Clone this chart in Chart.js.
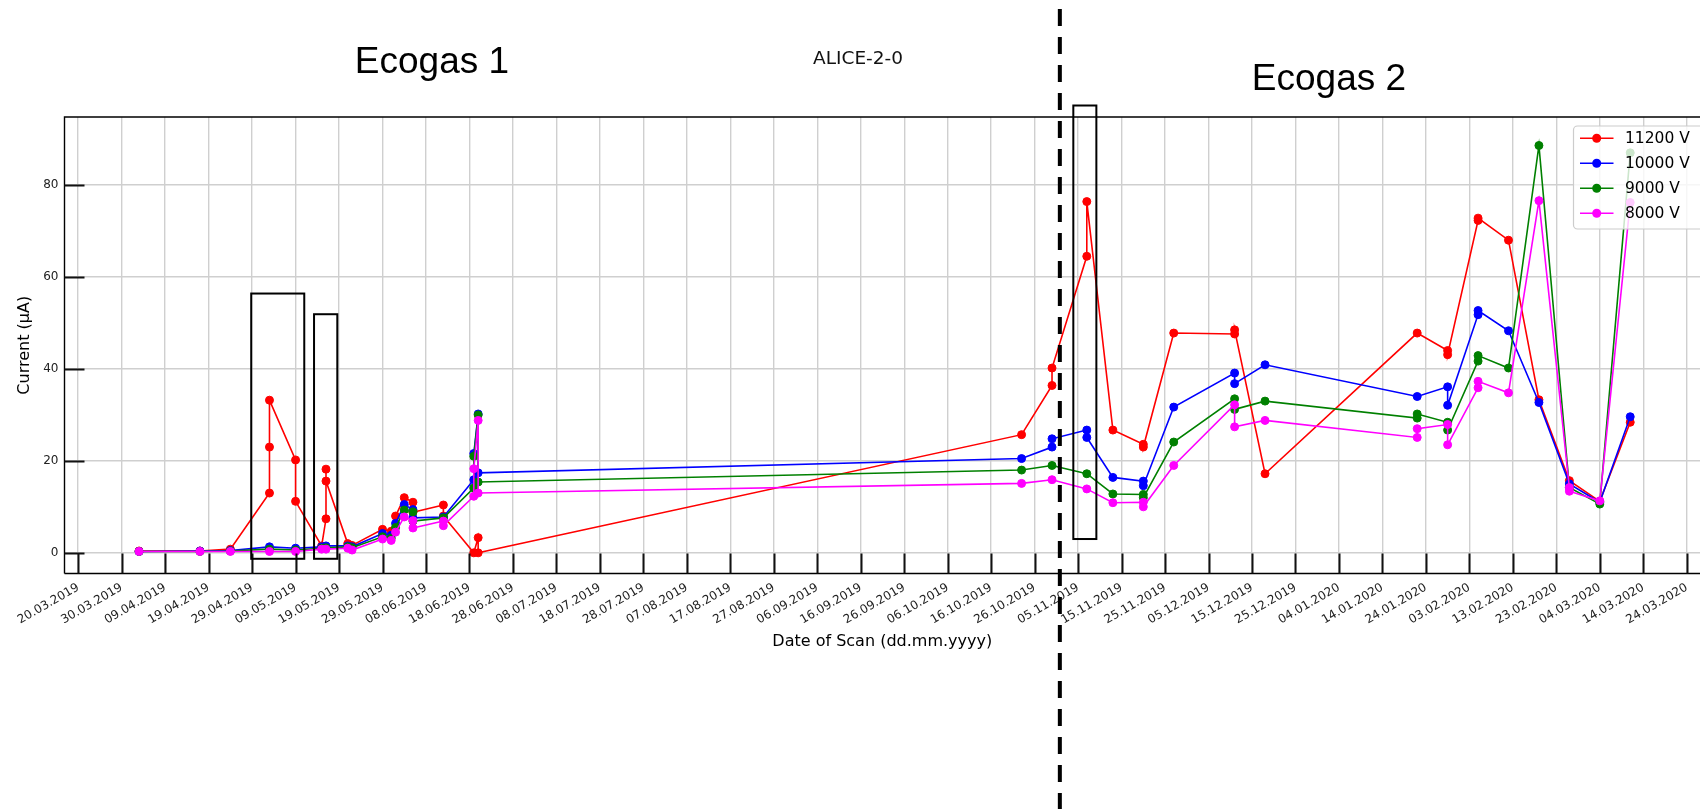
<!DOCTYPE html>
<html>
<head>
<meta charset="utf-8">
<script src="https://cdn.jsdelivr.net/npm/chart.js@4.4.1/dist/chart.umd.min.js"></script>
<style>
html,body{margin:0;padding:0;background:#fff;overflow:hidden}
canvas{display:block}
</style>
</head>
<body>
<canvas id="c" width="1700" height="809"></canvas>
<script>
// ---------------- DATA ----------------
const tickLabels = ['20.03.2019','30.03.2019','09.04.2019','19.04.2019','29.04.2019','09.05.2019','19.05.2019','29.05.2019','08.06.2019','18.06.2019','28.06.2019','08.07.2019','18.07.2019','28.07.2019','07.08.2019','17.08.2019','27.08.2019','06.09.2019','16.09.2019','26.09.2019','06.10.2019','16.10.2019','26.10.2019','05.11.2019','15.11.2019','25.11.2019','05.12.2019','15.12.2019','25.12.2019','04.01.2020','14.01.2020','24.01.2020','03.02.2020','13.02.2020','23.02.2020','04.03.2020','14.03.2020','24.03.2020'];
const yTickValues = [0, 20, 40, 60, 80];

const seriesNames = ['11200 V', '10000 V', '9000 V', '8000 V'];
const seriesColors = ['#ff0000', '#0000ff', '#008000', '#ff00ff'];

const dates11200 = ['03.04.2019','17.04.2019','24.04.2019','03.05.2019','03.05.2019','03.05.2019','09.05.2019','09.05.2019','15.05.2019','16.05.2019','16.05.2019','16.05.2019','21.05.2019','22.05.2019','29.05.2019','31.05.2019','01.06.2019','03.06.2019','05.06.2019','05.06.2019','12.06.2019','12.06.2019','19.06.2019','20.06.2019','20.06.2019','23.10.2019','30.10.2019','30.10.2019','07.11.2019','07.11.2019','13.11.2019','20.11.2019','20.11.2019','27.11.2019','11.12.2019','11.12.2019','18.12.2019','22.01.2020','29.01.2020','29.01.2020','05.02.2020','05.02.2020','12.02.2020','19.02.2020','26.02.2020','04.03.2020','11.03.2020'];
const values11200 = [0.4,0.4,0.8,13.0,23.0,33.2,20.2,11.2,1.5,7.4,18.2,15.6,2.0,1.6,5.1,4.7,8.0,12.0,11.0,8.8,10.4,8.0,0.0,3.3,0.0,25.7,36.4,40.2,64.5,76.4,26.7,23.6,23.0,47.8,47.6,48.5,17.2,47.8,44.0,43.1,72.3,72.8,68.0,33.3,15.7,11.2,28.4];

const dates10000 = ['03.04.2019','17.04.2019','24.04.2019','03.05.2019','09.05.2019','15.05.2019','16.05.2019','21.05.2019','22.05.2019','29.05.2019','31.05.2019','01.06.2019','03.06.2019','05.06.2019','05.06.2019','12.06.2019','19.06.2019','19.06.2019','20.06.2019','20.06.2019','23.10.2019','30.10.2019','30.10.2019','07.11.2019','07.11.2019','13.11.2019','20.11.2019','20.11.2019','27.11.2019','11.12.2019','11.12.2019','18.12.2019','22.01.2020','29.01.2020','29.01.2020','05.02.2020','05.02.2020','12.02.2020','19.02.2020','26.02.2020','04.03.2020','11.03.2020'];
const values10000 = [0.3,0.4,0.5,1.3,1.0,1.3,1.5,1.5,1.3,4.2,3.8,6.4,10.5,9.4,7.6,7.8,15.9,21.6,30.2,17.4,20.5,23.0,24.8,26.7,25.1,16.4,15.6,14.6,31.7,39.1,36.8,40.9,34.0,36.1,32.1,51.8,52.7,48.3,32.7,15.0,11.0,29.6];

const dates9000 = ['03.04.2019','17.04.2019','24.04.2019','03.05.2019','09.05.2019','15.05.2019','16.05.2019','21.05.2019','22.05.2019','29.05.2019','31.05.2019','01.06.2019','03.06.2019','05.06.2019','05.06.2019','12.06.2019','19.06.2019','19.06.2019','20.06.2019','20.06.2019','23.10.2019','30.10.2019','07.11.2019','13.11.2019','20.11.2019','20.11.2019','27.11.2019','11.12.2019','11.12.2019','18.12.2019','22.01.2020','22.01.2020','29.01.2020','29.01.2020','05.02.2020','05.02.2020','12.02.2020','19.02.2020','26.02.2020','04.03.2020','11.03.2020'];
const values9000 = [0.3,0.3,0.4,0.8,0.6,1.0,1.1,1.3,1.1,3.5,3.2,5.5,9.3,8.9,6.9,7.6,14.1,21.0,30.0,15.4,18.0,19.0,17.2,12.8,12.7,12.0,24.1,33.5,31.2,33.0,29.3,30.2,28.4,26.7,41.7,42.9,40.2,88.6,14.2,10.6,87.0];

const dates8000 = ['03.04.2019','17.04.2019','24.04.2019','03.05.2019','09.05.2019','15.05.2019','16.05.2019','21.05.2019','22.05.2019','29.05.2019','31.05.2019','01.06.2019','03.06.2019','05.06.2019','05.06.2019','12.06.2019','12.06.2019','19.06.2019','19.06.2019','20.06.2019','20.06.2019','23.10.2019','30.10.2019','07.11.2019','13.11.2019','20.11.2019','20.11.2019','27.11.2019','11.12.2019','11.12.2019','18.12.2019','22.01.2020','22.01.2020','29.01.2020','29.01.2020','05.02.2020','05.02.2020','12.02.2020','19.02.2020','26.02.2020','26.02.2020','04.03.2020','11.03.2020'];
const values8000 = [0.3,0.3,0.3,0.3,0.3,0.8,0.8,1.0,0.6,3.0,2.7,4.5,7.8,7.0,5.4,6.9,5.9,12.3,18.3,28.8,13.0,15.1,15.9,13.9,10.9,11.0,10.0,19.0,32.2,27.4,28.8,25.1,27.0,27.9,23.5,35.9,37.3,34.8,76.6,14.2,13.4,11.3,76.2];

// annotation boxes (days since 20.03.2019, current values)
const boxDayStart = [39.8, 54.25, 228.9];
const boxDayEnd   = [52.0, 59.6, 234.2];
const boxValLow   = [-1.3, -1.3, 3.0];
const boxValHigh  = [56.4, 51.9, 97.3];
const ecogasSplitDay = 225.8;

// ---------------- HELPERS ----------------
const ORIGIN = Date.UTC(2019, 2, 20);
function dayOf(s) {
  const [d, m, y] = s.split('.').map(Number);
  return (Date.UTC(y, m - 1, d) - ORIGIN) / 86400000;
}
function pts(ds, vs) {
  if (ds.length !== vs.length) console.warn('length mismatch', ds.length, vs.length);
  return ds.map((d, i) => ({ x: dayOf(d), y: vs[i] }));
}
const allDates = [].concat(dates11200, dates10000, dates9000, dates8000).map(dayOf);
const dMin = Math.min(...allDates), dMax = Math.max(...allDates);
const xMin = dMin - 0.05 * (dMax - dMin);
const xMax = 373.05;   // right edge of the (cropped) axes
const yMin = -4.5, yMax = 94.8;

const seriesData = [pts(dates11200, values11200), pts(dates10000, values10000), pts(dates9000, values9000), pts(dates8000, values8000)];

const datasets = seriesData.map((d, i) => ({
  label: seriesNames[i],
  data: d,
  borderColor: seriesColors[i],
  backgroundColor: seriesColors[i],
  pointBackgroundColor: seriesColors[i],
  pointBorderColor: seriesColors[i],
  pointRadius: 4,
  pointBorderWidth: 1,
  borderWidth: 1.6,
  tension: 0,
  fill: false,
  order: 4 - i
}));

const DEJ = "'DejaVu Sans', 'Liberation Sans', sans-serif";

const overlay = {
  id: 'overlay',
  afterDatasetsDraw(chart) {
    const { ctx, chartArea: a, scales: { x, y } } = chart;
    ctx.save();
    // frame (top, left, bottom; right spine is cropped off)
    ctx.strokeStyle = '#000';
    ctx.lineWidth = 1.4;
    ctx.beginPath();
    ctx.moveTo(a.left, a.bottom); ctx.lineTo(a.left, a.top); ctx.lineTo(a.right + 3, a.top);
    ctx.moveTo(a.left, a.bottom); ctx.lineTo(a.right + 3, a.bottom);
    ctx.stroke();
    // inward tick marks
    ctx.strokeStyle = '#111';
    ctx.lineWidth = 2;
    ctx.beginPath();
    x.ticks.forEach(t => {
      const px = Math.round(x.getPixelForValue(t.value)) + 0.5;
      ctx.moveTo(px, a.bottom); ctx.lineTo(px, a.bottom - 20);
    });
    y.ticks.forEach(t => {
      const py = Math.round(y.getPixelForValue(t.value)) + 0.5;
      ctx.moveTo(a.left, py); ctx.lineTo(a.left + 20, py);
    });
    ctx.stroke();
    // highlight boxes
    ctx.strokeStyle = '#000';
    ctx.lineWidth = 2;
    for (let i = 0; i < boxDayStart.length; i++) {
      const x0 = x.getPixelForValue(boxDayStart[i]);
      const x1 = x.getPixelForValue(boxDayEnd[i]);
      const y0 = y.getPixelForValue(boxValHigh[i]);
      const y1 = y.getPixelForValue(boxValLow[i]);
      ctx.strokeRect(x0, y0, x1 - x0, y1 - y0);
    }
    ctx.restore();
  },
  afterDraw(chart) {
    const { ctx, scales: { x } } = chart;
    ctx.save();
    // dashed divider between Ecogas 1 and Ecogas 2
    const dx = x.getPixelForValue(ecogasSplitDay);
    ctx.strokeStyle = '#000';
    ctx.lineWidth = 4;
    ctx.setLineDash([17, 11]);
    ctx.beginPath();
    ctx.moveTo(dx, 9); ctx.lineTo(dx, 809);
    ctx.stroke();
    ctx.setLineDash([]);
    // titles
    ctx.fillStyle = '#000';
    ctx.textAlign = 'center';
    ctx.textBaseline = 'alphabetic';
    ctx.font = "37px 'Liberation Sans', Arial, sans-serif";
    ctx.fillText('Ecogas 1', 432, 73.3);
    ctx.fillText('Ecogas 2', 1329, 90);
    ctx.fillStyle = '#111';
    ctx.font = '18.5px ' + DEJ;
    ctx.fillText('ALICE-2-0', 858, 63.5);
    // legend
    const lx = 1573.5, ly = 126, lw = 130, lh = 103;
    ctx.beginPath();
    const r = 4;
    ctx.moveTo(lx + r, ly);
    ctx.lineTo(lx + lw - r, ly); ctx.arcTo(lx + lw, ly, lx + lw, ly + r, r);
    ctx.lineTo(lx + lw, ly + lh - r); ctx.arcTo(lx + lw, ly + lh, lx + lw - r, ly + lh, r);
    ctx.lineTo(lx + r, ly + lh); ctx.arcTo(lx, ly + lh, lx, ly + lh - r, r);
    ctx.lineTo(lx, ly + r); ctx.arcTo(lx, ly, lx + r, ly, r);
    ctx.closePath();
    ctx.fillStyle = 'rgba(255,255,255,0.8)';
    ctx.fill();
    ctx.strokeStyle = '#cccccc';
    ctx.lineWidth = 1.2;
    ctx.stroke();
    chart.data.datasets.forEach((ds, i) => {
      const cy = 138.3 + i * 25;
      ctx.strokeStyle = ds.borderColor;
      ctx.lineWidth = 1.6;
      ctx.beginPath();
      ctx.moveTo(1580, cy); ctx.lineTo(1613.5, cy);
      ctx.stroke();
      ctx.fillStyle = ds.borderColor;
      ctx.beginPath();
      ctx.arc(1596.7, cy, 4.5, 0, Math.PI * 2);
      ctx.fill();
      ctx.fillStyle = '#000';
      ctx.textAlign = 'left';
      ctx.textBaseline = 'middle';
      ctx.font = '15.5px ' + DEJ;
      ctx.fillText(ds.label, 1625, cy + 1);
    });
    ctx.restore();
  }
};

new Chart(document.getElementById('c'), {
  type: 'line',
  data: { datasets },
  options: {
    responsive: false,
    devicePixelRatio: 1,
    animation: false,
    events: [],
    layout: { autoPadding: false, padding: { top: 117, left: 0, right: 0, bottom: 154 } },
    plugins: { legend: { display: false }, tooltip: { enabled: false }, title: { display: false } },
    scales: {
      x: {
        type: 'linear',
        min: xMin,
        max: xMax,
        afterBuildTicks: s => { s.ticks = tickLabels.map(l => ({ value: dayOf(l) })); },
        afterFit: s => { s.height = 81.5; s.paddingLeft = 0; s.paddingRight = 0; },
        grid: { color: '#cfcfcf', lineWidth: 1.4, drawTicks: false },
        border: { display: false },
        ticks: {
          autoSkip: false, minRotation: 30, maxRotation: 30, padding: 7, color: '#222',
          font: { family: DEJ, size: 12 },
          callback: (v, i) => tickLabels[i]
        },
        title: { display: true, text: 'Date of Scan (dd.mm.yyyy)', color: '#000', font: { family: DEJ, size: 16 }, padding: { top: 0, bottom: 4 } }
      },
      y: {
        type: 'linear',
        min: yMin,
        max: yMax,
        afterBuildTicks: s => { s.ticks = yTickValues.map(v => ({ value: v })); },
        afterFit: s => { s.width = 64.5; },
        grid: { color: '#cfcfcf', lineWidth: 1.4, drawTicks: false },
        border: { display: false },
        ticks: { padding: 6, color: '#222', font: { family: DEJ, size: 12 }, callback: v => String(v) },
        title: { display: true, text: 'Current (μA)', color: '#000', font: { family: DEJ, size: 16 }, padding: { top: 15.4, bottom: 0 } }
      }
    }
  },
  plugins: [overlay]
});
</script>
</body>
</html>
